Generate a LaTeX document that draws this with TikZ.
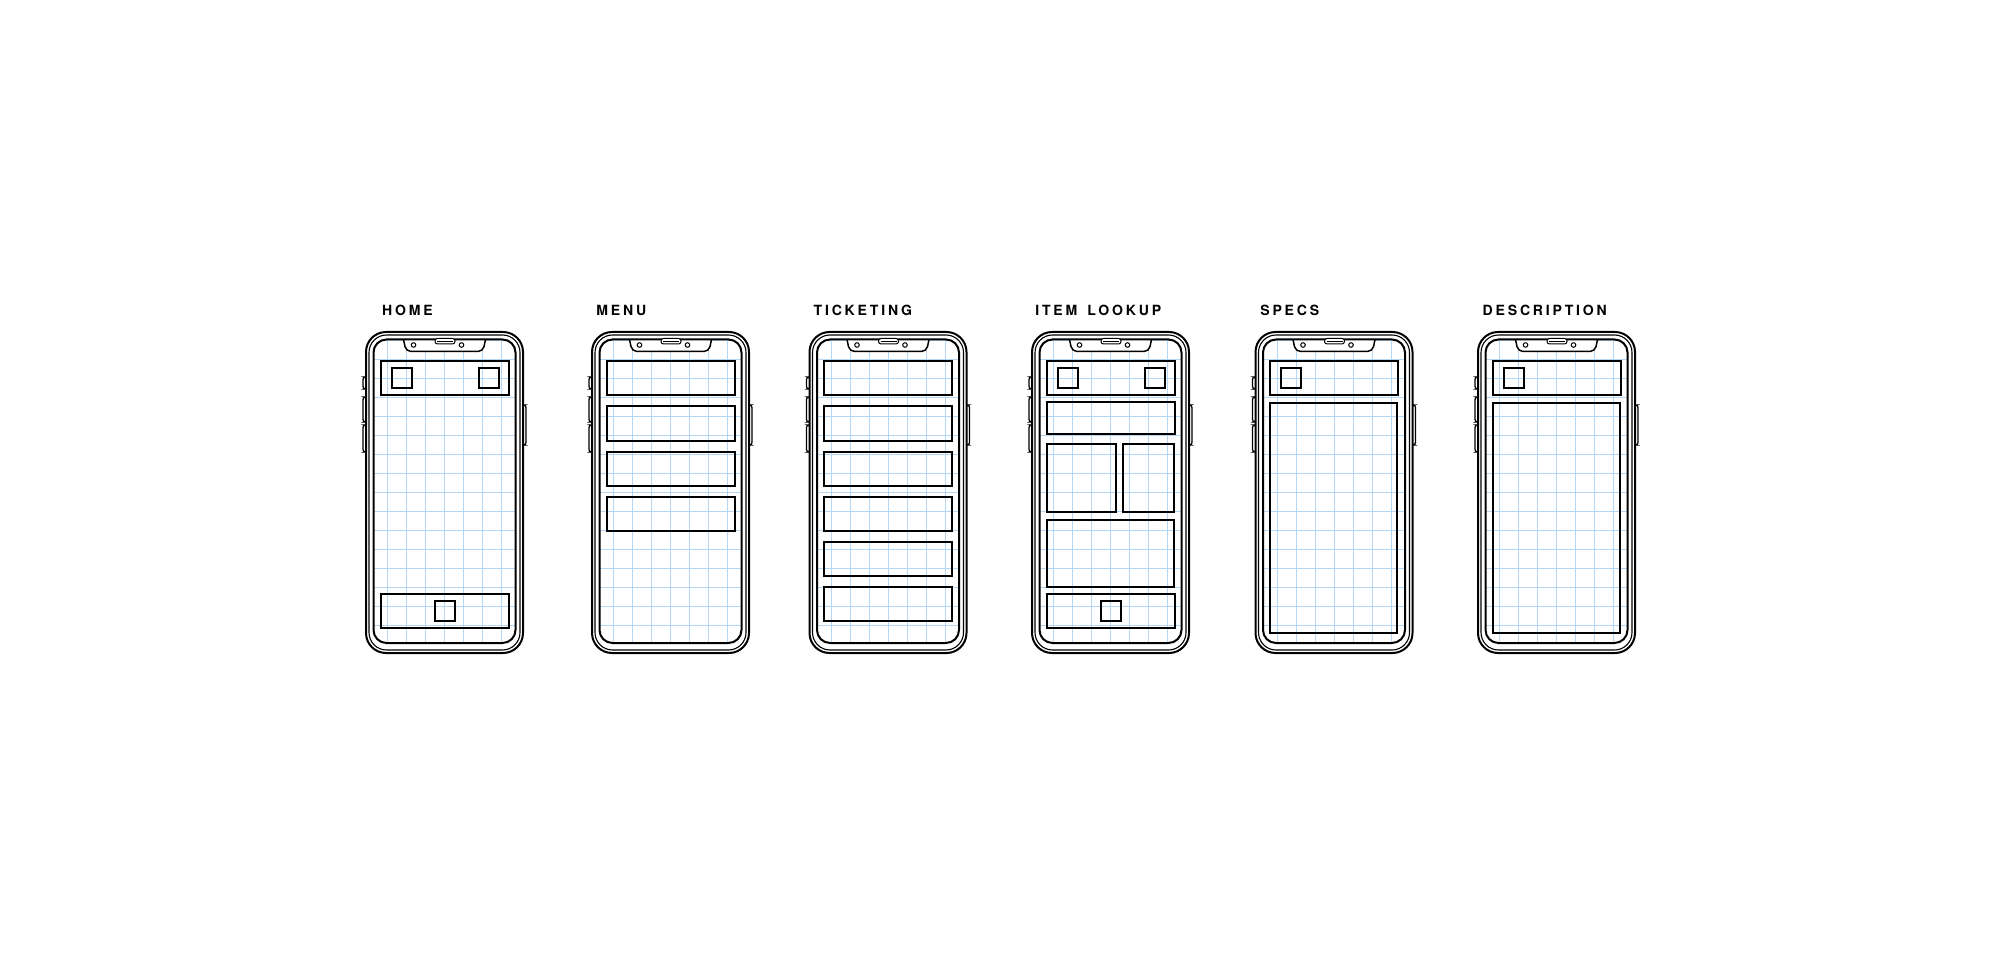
\documentclass[tikz,border=0pt]{standalone}
\usepackage{fontspec}
\newfontfamily\screenfont[LetterSpace=20, WordSpace=1.5]{TeX Gyre Heros}
\definecolor{gridblue}{RGB}{180,215,245}
\tikzset{
	phonebody/.style={line width=0.4mm, rounded corners=4mm},
	phonerim/.style={line width=0.22mm, rounded corners=3.5mm},
	screenline/.style={line width=0.4mm, rounded corners=2.6mm},
	gridline/.style={gridblue, line width=0.2mm},
	bar/.style={line width=0.4mm},
	sidebutton/.style={line width=0.25mm, rounded corners=0.5mm},
	screenname/.style={font=\screenfont\bfseries\fontsize{8pt}{9pt}\selectfont, inner sep=0pt, anchor=base west}
}
% one phone outline, local units in px, top left corner at (0,0)
\newcommand{\phoneshape}{%
	\draw[sidebutton] (-3,45) rectangle (0.5,57);
	\draw[sidebutton] (-3,65) rectangle (0.5,90);
	\draw[sidebutton] (-3,93) rectangle (0.5,120);
	\draw[sidebutton] (156.5,73) rectangle (160,113);
	\draw[phonebody, fill=white] (0,0) rectangle (157,321);
	\draw[phonerim] (3,3) rectangle (154,318);
	\begin{scope}
		\clip[rounded corners=2.6mm] (7.5,7.5) rectangle (149.5,311);
		\foreach \gx in {21.5,40.5,...,135.5}
			\draw[gridline] (\gx,0) -- (\gx,321);
		\foreach \gy in {8.5,27.5,...,312}
			\draw[gridline] (0,\gy) -- (157,\gy);
	\end{scope}
	\draw[line width=0.3mm, fill=white, rounded corners=1mm] (37.5,7.5) -- (40,19.5) -- (117,19.5) -- (119.5,7.5);
	\draw[screenline] (7.5,7.5) rectangle (149.5,311);
	\draw[line width=0.2mm, fill=white, rounded corners=0.5mm] (69,6.5) rectangle (89,12);
	\draw[line width=0.2mm] (71,9.25) -- (87,9.25);
	\draw[line width=0.2mm] (47.5,13) circle (2.3);
	\draw[line width=0.2mm] (95.5,13) circle (2.3);
}
\begin{document}
\begin{tikzpicture}[x=0.2mm, y=-0.2mm]
	\useasboundingbox (0,0) rectangle (2000,973);
	
	\node[screenname] (homename) at (381.7,315.7) {HOME};
	\node[screenname] (menuname) at (596,315.7) {MENU};
	\node[screenname] (ticketname) at (813.3,315.7) {TICKETING};
	\node[screenname] (lookupname) at (1035,315.7) {ITEM LOOKUP};
	\node[screenname] (specsname) at (1260,315.7) {SPECS};
	\node[screenname] (descname) at (1482.3,315.7) {DESCRIPTION};
	
	% home
	\begin{scope}[shift={(366,332)}]
		\phoneshape
		\draw[bar] (14.5,29.5) rectangle (142.5,63.5);
		\draw[bar] (25.5,36.5) rectangle (45.5,56.5);
		\draw[bar] (112.5,36.5) rectangle (132.5,56.5);
		\draw[bar] (14.5,261.5) rectangle (142.5,295.5);
		\draw[bar] (68.5,268.5) rectangle (88.5,288.5);
	\end{scope}
	
	% menu
	\begin{scope}[shift={(592,332)}]
		\phoneshape
		\foreach \k in {0,...,3}
			\draw[bar] (14.5,{29.5+45*\k}) rectangle (142.5,{63.5+45*\k});
	\end{scope}
	
	% ticketing
	\begin{scope}[shift={(809.5,332)}]
		\phoneshape
		\foreach \k in {0,...,5}
			\draw[bar] (14.5,{29.5+45*\k}) rectangle (142.5,{63.5+45*\k});
	\end{scope}
	
	% item lookup
	\begin{scope}[shift={(1032,332)}]
		\phoneshape
		\draw[bar] (14.5,29.5) rectangle (142.5,63.5);
		\draw[bar] (25.5,36.5) rectangle (45.5,56.5);
		\draw[bar] (112.5,36.5) rectangle (132.5,56.5);
		\draw[bar] (14.5,70.5) rectangle (142.5,101.5);
		\draw[bar] (15,111.5) rectangle (84,179.5);
		\draw[bar] (90.5,111.5) rectangle (141.5,179.5);
		\draw[bar] (15,187.5) rectangle (142,254.5);
		\draw[bar] (14.5,261.5) rectangle (142.5,295.5);
		\draw[bar] (68.5,268.5) rectangle (88.5,288.5);
	\end{scope}
	
	% specs
	\begin{scope}[shift={(1255.5,332)}]
		\phoneshape
		\draw[bar] (14.5,29.5) rectangle (142.5,63.5);
		\draw[bar] (25.5,36.5) rectangle (45.5,56.5);
		\draw[bar] (14.5,71.5) rectangle (141.5,300.5);
	\end{scope}
	
	% description
	\begin{scope}[shift={(1478,332)}]
		\phoneshape
		\draw[bar] (14.5,29.5) rectangle (142.5,63.5);
		\draw[bar] (25.5,36.5) rectangle (45.5,56.5);
		\draw[bar] (14.5,71.5) rectangle (141.5,300.5);
	\end{scope}
\end{tikzpicture}
\end{document}
